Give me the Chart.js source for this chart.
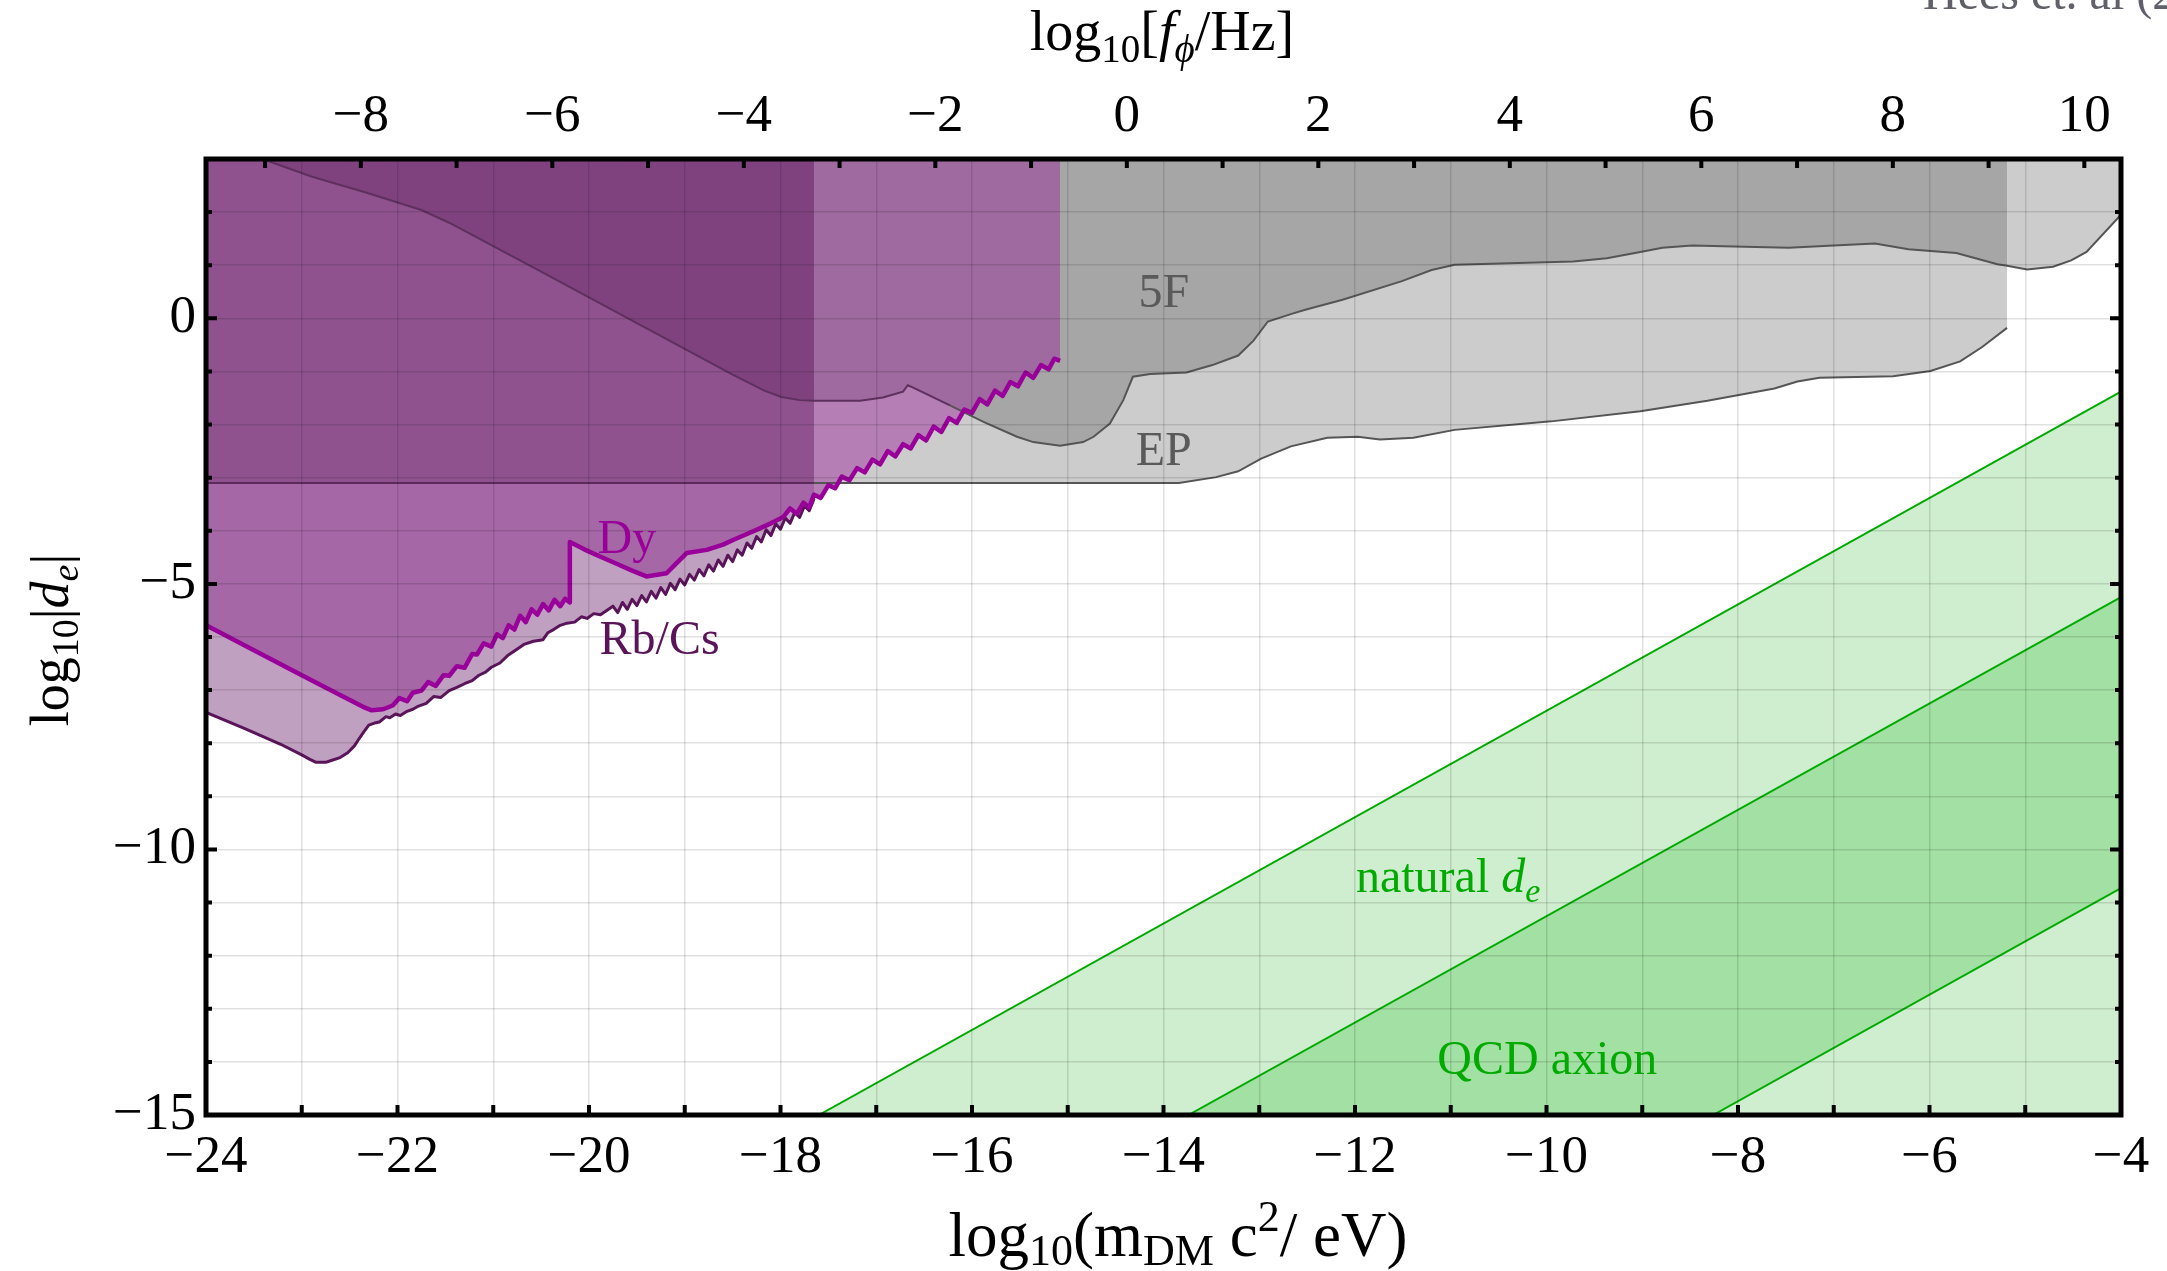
<!DOCTYPE html>
<html>
<head>
<meta charset="utf-8">
<script src="https://cdn.jsdelivr.net/npm/chart.js@4.4.0/dist/chart.umd.min.js"></script>
<style>
  html, body { margin: 0; padding: 0; background: #fff; }
  #wrap { width: 2167px; height: 1271px; position: relative; }
</style>
</head>
<body>
<div id="wrap"><canvas id="chart"></canvas></div>
<script>
// log10 of mass (eV) -> log10 of frequency (Hz): log10(1/h)
const HZ_OFFSET = 14.383;
const FAMILY = "'Liberation Serif', 'DejaVu Serif', serif";

// tick labels
const massTicks = [-24, -22, -20, -18, -16, -14, -12, -10, -8, -6, -4];
const freqTicks = [-8, -6, -4, -2, 0, 2, 4, 6, 8, 10];
const coupTicks = [-15, -10, -5, 0];

// fifth force (5F) bound
const fiveF_m = [-23.41, -22.9, -22.33, -21.75, -21.46, -21.02, -20.5, -19.5, -18.5, -18.17, -17.99, -17.8, -17.65, -17.17, -16.93, -16.72, -16.67, -16.62, -16.23, -15.88, -15.53, -15.36, -15.08, -14.84, -14.73, -14.56, -14.42, -14.32, -14.14, -13.76, -13.49, -13.22, -13.06, -12.91, -12.67, -12.52, -12.13, -11.51, -11.2, -10.96, -9.72, -9.37, -9.02, -8.79, -8.48, -7.93, -7.47, -7.0, -6.57, -6.22, -5.72, -5.29, -5.19, -4.98, -4.71, -4.52, -4.36, -4.0];
const fiveF_d = [3.0, 2.67, 2.37, 2.04, 1.8, 1.38, 0.88, -0.09, -1.06, -1.36, -1.48, -1.54, -1.55, -1.55, -1.49, -1.38, -1.26, -1.3, -1.64, -1.95, -2.23, -2.33, -2.4, -2.33, -2.23, -1.98, -1.54, -1.1, -1.05, -1.02, -0.88, -0.7, -0.42, -0.06, 0.08, 0.16, 0.35, 0.7, 0.91, 1.01, 1.07, 1.13, 1.25, 1.33, 1.37, 1.35, 1.33, 1.37, 1.41, 1.3, 1.23, 1.02, 0.99, 0.92, 0.97, 1.09, 1.25, 1.95];

// equivalence principle (EP) bound
const ep_m = [-24, -17.65, -13.84, -13.45, -13.22, -12.98, -12.67, -12.29, -11.97, -11.74, -11.39, -10.96, -9.95, -9.02, -8.32, -7.62, -7.38, -7.15, -6.38, -5.99, -5.68, -5.45, -5.19];
const ep_d = [-3.1, -3.1, -3.1, -2.99, -2.88, -2.64, -2.41, -2.25, -2.23, -2.28, -2.25, -2.1, -1.94, -1.75, -1.55, -1.32, -1.19, -1.12, -1.09, -0.99, -0.81, -0.54, -0.18];

// Dy spectroscopy
const dy_m = [-24.0, -23.5, -23.0, -22.6, -22.34, -22.27, -22.15, -22.05, -21.98, -21.9, -21.84, -21.75, -21.68, -21.6, -21.52, -21.46, -21.38, -21.3, -21.22, -21.17, -21.1, -21.02, -20.96, -20.9, -20.84, -20.78, -20.72, -20.66, -20.6, -20.54, -20.48, -20.42, -20.36, -20.3, -20.25, -20.2, -20.2, -20.05, -19.88, -19.7, -19.55, -19.4, -19.19, -19.08, -18.98, -18.77, -18.6, -18.49, -18.35, -18.21, -18.1, -17.97, -17.9, -17.83, -17.76, -17.7, -17.65, -17.58, -17.5, -17.43, -17.36, -17.28, -17.2, -17.12, -17.04, -16.96, -16.88, -16.8, -16.72, -16.64, -16.56, -16.48, -16.4, -16.32, -16.24, -16.16, -16.08, -16.0, -15.92, -15.84, -15.76, -15.68, -15.6, -15.52, -15.44, -15.36, -15.28, -15.2, -15.14, -15.08];
const dy_d = [-5.78, -6.25, -6.72, -7.09, -7.33, -7.38, -7.36, -7.29, -7.15, -7.21, -7.05, -7.01, -6.85, -6.92, -6.72, -6.73, -6.55, -6.58, -6.32, -6.33, -6.12, -6.18, -5.95, -6.02, -5.78, -5.86, -5.6, -5.72, -5.48, -5.58, -5.38, -5.5, -5.3, -5.42, -5.28, -5.35, -4.21, -4.35, -4.49, -4.63, -4.75, -4.86, -4.8, -4.6, -4.42, -4.36, -4.26, -4.17, -4.06, -3.95, -3.86, -3.74, -3.58, -3.68, -3.47, -3.56, -3.32, -3.38, -3.14, -3.2, -2.98, -3.05, -2.82, -2.9, -2.66, -2.75, -2.5, -2.6, -2.37, -2.45, -2.2, -2.3, -2.04, -2.14, -1.88, -1.97, -1.72, -1.78, -1.52, -1.62, -1.36, -1.46, -1.2, -1.28, -1.02, -1.12, -0.88, -0.96, -0.76, -0.8];

// Rb/Cs clock comparison
const rb_m = [-24.0, -23.6, -23.22, -23.0, -22.92, -22.85, -22.75, -22.7, -22.6, -22.52, -22.45, -22.41, -22.35, -22.3, -22.24, -22.19, -22.12, -22.08, -22.02, -21.97, -21.9, -21.84, -21.78, -21.7, -21.62, -21.55, -21.46, -21.38, -21.3, -21.22, -21.15, -21.08, -21.02, -20.93, -20.85, -20.76, -20.68, -20.58, -20.48, -20.43, -20.37, -20.3, -20.23, -20.15, -20.08, -20.02, -19.95, -19.88, -19.75, -19.7, -19.65, -19.6, -19.55, -19.5, -19.45, -19.4, -19.35, -19.3, -19.25, -19.2, -19.15, -19.1, -19.05, -19.0, -18.95, -18.9, -18.85, -18.8, -18.75, -18.7, -18.65, -18.6, -18.55, -18.5, -18.45, -18.4, -18.35, -18.3, -18.25, -18.2, -18.15, -18.1, -18.05, -18.0, -17.95, -17.9, -17.85, -17.8, -17.75, -17.7, -17.65];
const rb_d = [-7.42, -7.72, -8.02, -8.22, -8.3, -8.36, -8.36, -8.33, -8.27, -8.18, -8.05, -7.94, -7.78, -7.66, -7.62, -7.6, -7.5, -7.52, -7.45, -7.48, -7.4, -7.36, -7.3, -7.25, -7.12, -7.14, -7.01, -6.95, -6.88, -6.82, -6.72, -6.66, -6.57, -6.49, -6.35, -6.24, -6.14, -6.08, -6.05, -5.92, -5.86, -5.78, -5.74, -5.72, -5.62, -5.65, -5.56, -5.58, -5.42, -5.54, -5.35, -5.48, -5.29, -5.41, -5.22, -5.34, -5.14, -5.27, -5.07, -5.2, -4.99, -5.11, -4.91, -5.02, -4.82, -4.93, -4.73, -4.85, -4.64, -4.76, -4.55, -4.67, -4.46, -4.58, -4.36, -4.46, -4.23, -4.33, -4.11, -4.21, -3.98, -4.09, -3.87, -3.97, -3.76, -3.86, -3.65, -3.75, -3.53, -3.62, -3.4];

// natural d_e band (upper edge) and QCD axion band (two edges)
const natTop_m = [-17.6, -4], natTop_d = [-15, -1.38];
const qcdTop_m = [-13.74, -4], qcdTop_d = [-15, -5.25];
const qcdLow_m = [-8.26, -4], qcdLow_d = [-15, -10.73];

const RB_END = -17.65, DY_END = -15.08, EP_END = -5.19;

function pts(ms, ds, lo, hi) {
  return ms.map((m, i) => ({x: m, y: ds[i]})).filter(p => p.x >= lo && p.x <= hi);
}
function area(data, fill, color, order) {
  return {data, fill, backgroundColor: color, borderWidth: 0, pointRadius: 0, order};
}
function fmt(v) {
  return v < 0 ? '\u2212' + Math.abs(v) : String(v);
}
function isInt(v) { return Math.abs(v - Math.round(v)) < 1e-6; }

const datasets = [];
// greens
datasets.push({data: pts(natTop_m, natTop_d, -99, 99), fill: 'start', backgroundColor: '#cfedcf', borderColor: '#00aa00', borderWidth: 2, pointRadius: 0, order: 60});
datasets.push({data: pts(qcdTop_m, qcdTop_d, -99, 99), fill: 'start', backgroundColor: '#a3e0a3', borderColor: '#00aa00', borderWidth: 2, pointRadius: 0, order: 59});
datasets.push({data: pts(qcdLow_m, qcdLow_d, -99, 99), fill: 'start', backgroundColor: '#cfedcf', borderColor: '#00aa00', borderWidth: 2, pointRadius: 0, order: 58});
// grey regions
datasets.push(area(pts(ep_m, ep_d, -24, EP_END), 'end', '#cccccc', 50));
datasets.push(area(pts(fiveF_m, fiveF_d, EP_END, -4), 'end', '#cccccc', 49));
datasets.push(area(pts(fiveF_m, fiveF_d, -24, EP_END), 'end', '#a6a6a6', 48));
// purple regions
datasets.push(area(pts(rb_m, rb_d, -24, RB_END), 'end', '#c0a0c0', 40));
datasets.push(area(pts(dy_m, dy_d, -24, RB_END), 'end', '#a667a6', 39));
datasets.push(area(pts(ep_m, ep_d, -24, RB_END), 'end', '#8f528f', 38));
datasets.push(area(pts(fiveF_m, fiveF_d, -24, RB_END), 'end', '#7f427f', 37));
const segIdx = datasets.length;
datasets.push(area(pts(fiveF_m, fiveF_d, RB_END, DY_END), 'end', '#9f6a9f', 36));
datasets.push(area(pts(dy_m, dy_d, RB_END, DY_END), {target: segIdx, above: '#a6a6a6', below: '#b57fb5'}, 'rgba(0,0,0,0)', 35));
// boundary lines
datasets.push({data: pts(ep_m, ep_d, -24, EP_END), fill: false, borderWidth: 2, pointRadius: 0, order: 10,
  segment: {borderColor: c => c.p1.parsed.x <= RB_END ? '#5e2a5e' : '#555555'}});
datasets.push({data: pts(fiveF_m, fiveF_d, -24, -4), fill: false, borderWidth: 2, pointRadius: 0, order: 9,
  segment: {borderColor: c => c.p1.parsed.x <= -16.1 ? '#5e305e' : '#555555'}});
datasets.push({data: pts(rb_m, rb_d, -24, RB_END), fill: false, borderColor: '#5a145a', borderWidth: 3, pointRadius: 0, order: 8, borderJoinStyle: 'round'});
datasets.push({data: pts(dy_m, dy_d, -24, DY_END), fill: false, borderColor: '#990099', borderWidth: 4.5, pointRadius: 0, order: 7, borderJoinStyle: 'round'});

function drawRich(ctx, parts, x, y, align, color) {
  let total = 0;
  parts.forEach(p => {
    ctx.font = (p.italic ? 'italic ' : '') + p.size + 'px ' + FAMILY;
    p.w = ctx.measureText(p.t).width;
    total += p.w;
  });
  let cx = align === 'center' ? x - total / 2 : x;
  ctx.fillStyle = color;
  ctx.textAlign = 'left';
  ctx.textBaseline = 'alphabetic';
  parts.forEach(p => {
    ctx.font = (p.italic ? 'italic ' : '') + p.size + 'px ' + FAMILY;
    ctx.fillText(p.t, cx, y + (p.dy || 0));
    cx += p.w;
  });
}

const overlay = {
  id: 'overlay',
  afterDraw(chart) {
    const {ctx, chartArea: a, scales} = chart;
    const sx = scales.x, sy = scales.y, st = scales.x2;
    ctx.save();
    ctx.strokeStyle = '#000';
    ctx.lineCap = 'butt';
    ctx.lineWidth = 4;
    ctx.beginPath();
    for (let v = -24; v <= -4; v++) {
      const x = sx.getPixelForValue(v);
      ctx.moveTo(x, a.bottom); ctx.lineTo(x, a.bottom - 10);
    }
    for (let v = Math.ceil(st.min); v <= Math.floor(st.max); v++) {
      const x = st.getPixelForValue(v);
      ctx.moveTo(x, a.top); ctx.lineTo(x, a.top + 9);
    }
    for (let v = -15; v <= 3; v++) {
      const y = sy.getPixelForValue(v);
      const len = v % 5 === 0 ? 11 : 6;
      ctx.moveTo(a.left, y); ctx.lineTo(a.left + len, y);
      ctx.moveTo(a.right, y); ctx.lineTo(a.right - len, y);
    }
    ctx.stroke();
    ctx.lineWidth = 5;
    ctx.strokeRect(a.left, a.top, a.right - a.left, a.bottom - a.top);

    // region labels
    const px = m => sx.getPixelForValue(m), py = d => sy.getPixelForValue(d);
    drawRich(ctx, [{t: '5F', size: 48}], px(-14.26), py(0.21), 'left', '#5a5a5a');
    drawRich(ctx, [{t: 'EP', size: 48}], px(-14.29), py(-2.77), 'left', '#5a5a5a');
    drawRich(ctx, [{t: 'Dy', size: 48}], px(-19.91), py(-4.42), 'left', '#990099');
    drawRich(ctx, [{t: 'Rb/Cs', size: 48}], px(-19.89), py(-6.32), 'left', '#5a145a');
    drawRich(ctx, [{t: 'natural ', size: 48}, {t: 'd', size: 48, italic: true}, {t: 'e', size: 34, italic: true, dy: 10}],
      px(-11.99), py(-10.81), 'left', '#00aa00');
    drawRich(ctx, [{t: 'QCD axion', size: 48}], px(-11.14), py(-14.23), 'left', '#00aa00');

    // axis titles
    drawRich(ctx, [{t: 'log', size: 63}, {t: '10', size: 44, dy: 9}, {t: '(m', size: 63}, {t: 'DM', size: 44, dy: 9},
      {t: ' c', size: 63}, {t: '2', size: 44, dy: -25}, {t: '/ eV)', size: 63}], 1178, 1256, 'center', '#000');
    drawRich(ctx, [{t: 'log', size: 56}, {t: '10', size: 39, dy: 12}, {t: '[', size: 56}, {t: 'f', size: 56, italic: true},
      {t: '\u03d5', size: 39, italic: true, dy: 12}, {t: '/Hz]', size: 56}], 1162, 50, 'center', '#000');
    ctx.save();
    ctx.translate(68, 640);
    ctx.rotate(-Math.PI / 2);
    drawRich(ctx, [{t: 'log', size: 54}, {t: '10', size: 38, dy: 10}, {t: '|', size: 54}, {t: 'd', size: 54, italic: true},
      {t: 'e', size: 38, italic: true, dy: 10}, {t: '|', size: 54}], 0, 0, 'center', '#000');
    ctx.restore();

    drawRich(ctx, [{t: 'Hees et. al (2021)', size: 48}], 1923, 9, 'left', '#5f6068');
    ctx.restore();
  }
};

const tickFont = {family: FAMILY, size: 53};
new Chart(document.getElementById('chart'), {
  type: 'line',
  data: {datasets},
  options: {
    responsive: true,
    maintainAspectRatio: false,
    devicePixelRatio: 1,
    animation: false,
    layout: {padding: {left: 0, right: 46, top: 0, bottom: 0}},
    plugins: {legend: {display: false}, tooltip: {enabled: false}},
    elements: {line: {tension: 0}},
    scales: {
      x: {
        type: 'linear', position: 'bottom', min: -24, max: -4,
        ticks: {stepSize: 1, autoSkip: false, maxRotation: 0, padding: 11, color: '#000', font: tickFont,
          callback: v => massTicks.includes(Math.round(v)) && isInt(v) ? fmt(Math.round(v)) : ''},
        grid: {color: 'rgba(0,0,0,0.12)', lineWidth: 1.5, drawTicks: false, z: 1},
        border: {display: false},
        afterFit: s => { s.height = 156; }
      },
      x2: {
        type: 'linear', position: 'top', min: -24 + HZ_OFFSET, max: -4 + HZ_OFFSET,
        ticks: {autoSkip: false, maxRotation: 0, padding: 10, color: '#000', font: tickFont,
          callback: v => fmt(v)},
        afterBuildTicks: s => { s.ticks = freqTicks.map(v => ({value: v})); },
        grid: {display: false, drawTicks: false},
        border: {display: false},
        afterFit: s => { s.height = 159; }
      },
      y: {
        type: 'linear', position: 'left', min: -15, max: 3,
        ticks: {stepSize: 1, autoSkip: false, padding: 10, color: '#000', font: tickFont,
          callback: v => coupTicks.includes(Math.round(v)) && isInt(v) ? fmt(Math.round(v)) : ''},
        grid: {color: 'rgba(0,0,0,0.12)', lineWidth: 1.5, drawTicks: false, z: 1},
        border: {display: false},
        afterFit: s => { s.width = 206; }
      }
    }
  },
  plugins: [overlay]
});
</script>
</body>
</html>
